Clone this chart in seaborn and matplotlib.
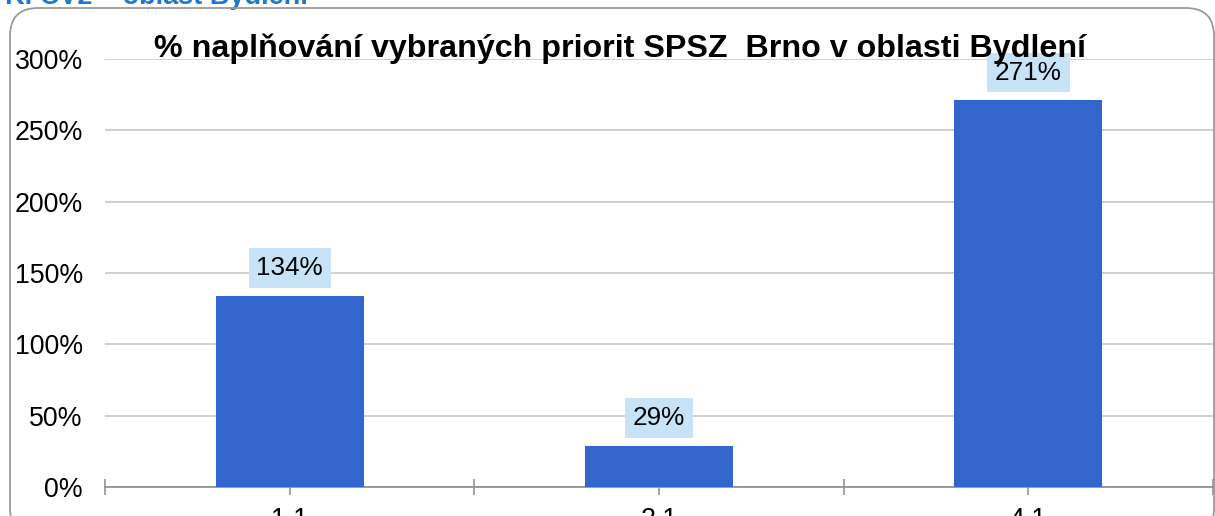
import matplotlib
matplotlib.use("Agg")
import matplotlib.pyplot as plt
import seaborn as sns
import pandas as pd
from matplotlib.patches import FancyBboxPatch
from matplotlib.transforms import IdentityTransform
from matplotlib.ticker import FuncFormatter, MultipleLocator, FixedLocator

categories = ["1.1", "2.1", "4.1"]
values = [1.34, 0.29, 2.71]
value_labels = ["134%", "29%", "271%"]
title = "% naplňování vybraných priorit SPSZ  Brno v oblasti Bydlení"
header = "K. CV2 – oblast Bydlení"

sns.set_theme(style="white")
plt.rcParams["font.family"] = ["Liberation Sans", "DejaVu Sans"]

W, H, DPI = 1215, 516, 100
fig = plt.figure(figsize=(W / DPI, H / DPI), dpi=DPI)

# rounded frame
frame = FancyBboxPatch((10, -20), 1204, 509 + 20 - 1, boxstyle="round,pad=0,rounding_size=28",
                       transform=IdentityTransform(), facecolor="none",
                       edgecolor="#9a9a9a", linewidth=1.3, zorder=10)
fig.patches.append(frame)

ax = fig.add_axes([105 / W, 1 - 487 / H, (1213 - 105) / W, (487 - 59) / H])
ax.patch.set_alpha(0)

df = pd.DataFrame({"cat": categories, "val": values})
sns.barplot(data=df, x="cat", y="val", color="#3366CC", saturation=1, width=0.4, ax=ax,
            zorder=3, edgecolor="none", linewidth=0)

ax.set_xlim(-0.5, 2.5)
ax.set_ylim(0, 3.0)
ax.yaxis.set_major_locator(MultipleLocator(0.5))
ax.yaxis.set_major_formatter(FuncFormatter(lambda v, p: f"{v * 100:.0f}%"))
ax.grid(axis="y", color="#c4c4c4", linewidth=1.1, zorder=0)
ax.set_axisbelow(True)
for s in ["left", "right", "top"]:
    ax.spines[s].set_visible(False)
ax.spines["bottom"].set_color("#8c8c8c")
ax.spines["bottom"].set_linewidth(1.2)
ax.set_xlabel("")
ax.set_ylabel("")
ax.tick_params(axis="y", length=0, pad=16, labelsize=19.3, labelcolor="black")
ax.xaxis.set_minor_locator(FixedLocator([-0.5, 0.5, 1.5, 2.5]))
ax.tick_params(axis="x", which="both", direction="inout", length=11, width=1.1, color="#8c8c8c",
               bottom=True)
ax.tick_params(axis="x", which="major", pad=9, labelsize=19.3, labelcolor="black")

for i, (v, lab) in enumerate(zip(values, value_labels)):
    ax.annotate(lab, xy=(i, v), xytext=(0, 20), textcoords="offset points",
                ha="center", va="center", fontsize=18.8, color="black", zorder=5,
                bbox=dict(boxstyle="square,pad=0.3", facecolor="#C6E3F7", edgecolor="none"))

fig.text(620 / W, 1 - 57 / H, title, ha="center", va="baseline", fontsize=23.2,
         fontweight="bold", color="black", zorder=6)
fig.text(5 / W, 1 - 4 / H, header, ha="left", va="baseline", fontsize=19.5,
         fontweight="bold", color="#1F78C8")

fig.savefig("out.png", dpi=DPI)
